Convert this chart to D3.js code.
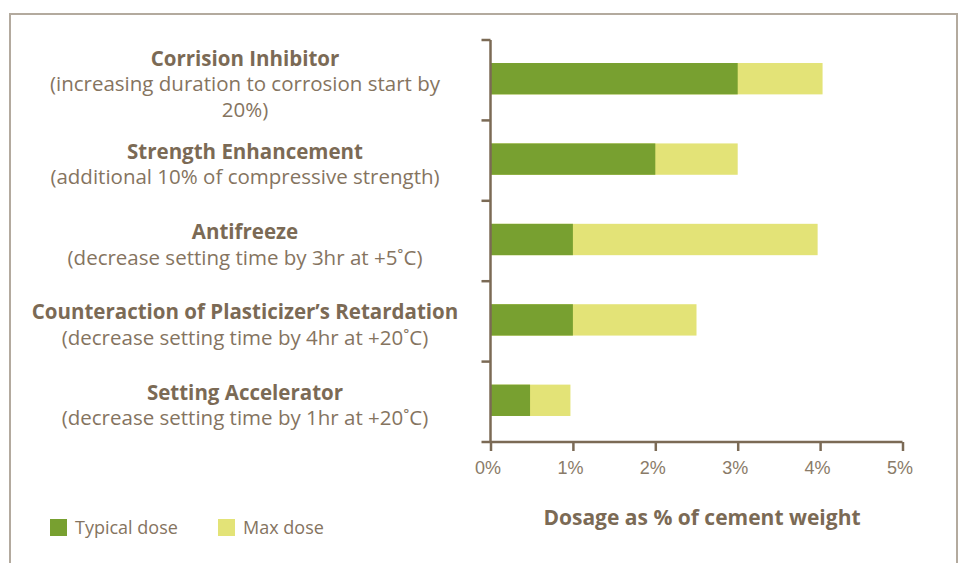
<!DOCTYPE html>
<html>
<head>
<meta charset="utf-8">
<script src="https://cdn.jsdelivr.net/npm/d3@7"></script>
<style>
  body { margin: 0; background: #fff; }
  svg { display: block; font-family: "Open Sans", sans-serif; }
</style>
</head>
<body>
<script>
// Chart data
var titles = ["Corrision Inhibitor", "Strength Enhancement", "Antifreeze",
              "Counteraction of Plasticizer\u2019s Retardation", "Setting Accelerator"];
var notes = [
  ["(increasing duration to corrosion start by", "20%)"],
  ["(additional 10% of compressive strength)"],
  ["(decrease setting time by 3hr at +5\u02DAC)"],
  ["(decrease setting time by 4hr at +20\u02DAC)"],
  ["(decrease setting time by 1hr at +20\u02DAC)"]
];
var typicalDose = [3, 2, 1, 1, 0.48];
var maxDose = [4.03, 3, 3.97, 2.5, 0.97];
var xTicks = [0, 1, 2, 3, 4, 5];
var seriesNames = ["Typical dose", "Max dose"];

var width = 965,
    height = 563;

var brown = "#7b6a55",
    green = "#78a030",
    yellow = "#e3e377";

var svg = d3.select("body")
    .append("svg")
    .attr("width", width)
    .attr("height", height);

// frame
svg.append("path")
    .attr("d", "M10,563V14H957V563")
    .attr("fill", "none")
    .attr("stroke", "#b3aa9e")
    .attr("stroke-width", 2);

var x = d3.scaleLinear()
    .domain([0, 5])
    .range([490.5, 902.5]);

var y = d3.scaleBand()
    .domain(titles)
    .range([40, 442]);

var barH = y.bandwidth() * 0.39;

// bars: typical part then the rest up to max
var g = svg.append("g");
g.selectAll("rect.max")
    .data(titles)
    .enter()
    .append("rect")
    .attr("x", x(0))
    .attr("y", d => y(d) + y.bandwidth() / 2 - barH / 2 - 1.5)
    .attr("width", (d, i) => x(maxDose[i]) - x(0))
    .attr("height", barH)
    .attr("fill", yellow);

g.selectAll("rect.typ")
    .data(titles)
    .enter()
    .append("rect")
    .attr("x", x(0))
    .attr("y", d => y(d) + y.bandwidth() / 2 - barH / 2 - 1.5)
    .attr("width", (d, i) => x(typicalDose[i]) - x(0))
    .attr("height", barH)
    .attr("fill", green);

// y axis with ticks on band edges
var yEdges = titles.map(d => y(d)).concat([y.range()[1]]);
svg.append("line")
    .attr("x1", x(0)).attr("x2", x(0))
    .attr("y1", 40).attr("y2", 442)
    .attr("stroke", brown).attr("stroke-width", 2.5);
svg.selectAll("line.ytick")
    .data(yEdges)
    .enter()
    .append("line")
    .attr("x1", x(0) - 9).attr("x2", x(0))
    .attr("y1", d => d).attr("y2", d => d)
    .attr("stroke", brown).attr("stroke-width", 2.5);

// x axis
var xAxis = d3.axisBottom(x)
    .tickValues(xTicks)
    .tickSize(9)
    .tickPadding(10)
    .tickFormat(d => d + "%");

var xg = svg.append("g")
    .attr("transform", "translate(0,442)")
    .call(xAxis);
xg.select(".domain")
    .attr("stroke", brown)
    .attr("stroke-width", 2.5)
    .attr("d", "M" + x(0) + ",0H" + x(5));
xg.selectAll(".tick line")
    .attr("stroke", brown)
    .attr("stroke-width", 2.5);
xg.selectAll(".tick text")
    .attr("fill", "#8a7b68")
    .attr("font-size", 18)
    .attr("font-weight", 300)
    .attr("dx", -3);

svg.append("text")
    .attr("x", 702)
    .attr("y", 525)
    .attr("text-anchor", "middle")
    .attr("font-size", 21)
    .attr("font-weight", "bold")
    .attr("fill", brown)
    .text("Dosage as % of cement weight");

// category labels
var labels = svg.append("g")
    .attr("text-anchor", "middle");
titles.forEach(function(t, i) {
    var cy = y(t) + y.bandwidth() / 2;
    var top = cy - (notes[i].length - 1) * 12.5 - 2;
    var txt = labels.append("text")
        .attr("x", 245)
        .attr("y", top)
        .attr("font-size", 20.5)
        .attr("fill", brown);
    txt.append("tspan")
        .attr("font-weight", "bold")
        .text(t);
    notes[i].forEach(function(n) {
        txt.append("tspan")
            .attr("x", 245)
            .attr("dy", 25.5)
            .attr("fill", "#85745f")
            .text(n);
    });
});

// legend
var legend = svg.selectAll("g.legend")
    .data(seriesNames)
    .enter()
    .append("g")
    .attr("transform", (d, i) => "translate(" + (50 + i * 168) + ",519)");
legend.append("rect")
    .attr("width", 17)
    .attr("height", 17)
    .attr("fill", (d, i) => i == 0 ? green : yellow);
legend.append("text")
    .attr("x", 25)
    .attr("y", 15)
    .attr("font-size", 18)
    .attr("fill", "#85745f")
    .text(d => d);
</script>
</body>
</html>
